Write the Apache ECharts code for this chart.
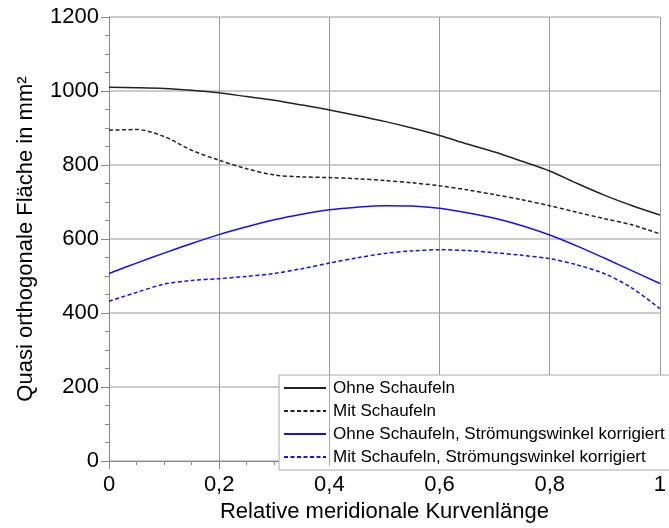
<!DOCTYPE html>
<html>
<head>
<meta charset="utf-8">
<script src="https://cdn.jsdelivr.net/npm/echarts@6/dist/echarts.min.js"></script>
<style>
  html, body { margin: 0; padding: 0; background: #fff; }
  #chart { width: 669px; height: 528px; }
</style>
</head>
<body>
<div id="chart"></div>
<script>
// Relative meridional curve length (sample positions)
const positions = [0, 0.05, 0.1, 0.15, 0.2, 0.25, 0.3, 0.35, 0.4, 0.45, 0.5,
                   0.55, 0.6, 0.65, 0.7, 0.75, 0.8, 0.85, 0.9, 0.95, 1.0];

// Quasi-orthogonal area in mm² for each configuration
const ohneSchaufeln = [1010, 1009, 1007, 1002, 995, 985, 975, 962, 949, 934, 918,
                       900, 880, 857, 835, 810, 784, 750, 718, 690, 665];
const mitSchaufeln = [894, 896, 877, 840, 813, 790, 773, 768, 766, 763, 758,
                      752, 744, 733, 720, 706, 690, 672, 655, 638, 614];
const ohneKorr = [507, 535, 562, 588, 612, 633, 652, 667, 679, 686, 690,
                  689, 683, 671, 656, 636, 611, 581, 548, 514, 480];
const mitKorr = [432, 456, 478, 488, 493, 499, 507, 520, 535, 549, 561,
                 568, 571, 569, 563, 556, 547, 530, 506, 467, 412];

const seriesNames = [
  'Ohne Schaufeln',
  'Mit Schaufeln',
  'Ohne Schaufeln, Strömungswinkel korrigiert',
  'Mit Schaufeln, Strömungswinkel korrigiert'
];

const yTicks = { min: 0, max: 1200, interval: 200 };
const xTicks = { min: 0, max: 1, interval: 0.2 };

const pairs = vals => positions.map((x, i) => [x, vals[i]]);

const FONT = 'Liberation Sans, Arial, sans-serif';

function lineSeries(name, vals, color, dashed) {
  return {
    name: name,
    type: 'line',
    data: pairs(vals),
    smooth: 0.3,
    symbol: 'none',
    lineStyle: { color: color, width: 1.5, type: dashed ? [4, 2.5] : 'solid' },
    itemStyle: { color: color },
    z: 3
  };
}

const chart = echarts.init(document.getElementById('chart'), null, { renderer: 'canvas' });
chart.setOption({
  animation: false,
  backgroundColor: '#fff',
  grid: { left: 109, right: -2, top: 17, bottom: 58, containLabel: false },
  xAxis: {
    type: 'value',
    min: xTicks.min, max: xTicks.max, interval: xTicks.interval,
    name: 'Relative meridionale Kurvenlänge',
    nameLocation: 'middle',
    nameGap: 36,
    nameTextStyle: { fontFamily: FONT, fontSize: 22, color: '#000' },
    axisLine: { lineStyle: { color: '#888', width: 1 } },
    axisTick: { show: true, length: 8, lineStyle: { color: '#888' } },
    minorTick: { show: true, splitNumber: 4, length: 4, lineStyle: { color: '#888' } },
    axisLabel: {
      fontFamily: FONT, fontSize: 22, color: '#000', margin: 13,
      formatter: v => String(Math.round(v * 10) / 10).replace('.', ',')
    },
    splitLine: { show: true, lineStyle: { color: '#999', width: 1 } }
  },
  yAxis: {
    type: 'value',
    min: yTicks.min, max: yTicks.max, interval: yTicks.interval,
    name: 'Quasi orthogonale Fläche in mm²',
    nameLocation: 'middle',
    nameGap: 72,
    nameTextStyle: { fontFamily: FONT, fontSize: 22, color: '#000' },
    axisLine: { show: true, lineStyle: { color: '#888', width: 1 } },
    axisTick: { show: true, length: 8, lineStyle: { color: '#888' } },
    minorTick: { show: true, splitNumber: 4, length: 4, lineStyle: { color: '#888' } },
    axisLabel: { fontFamily: FONT, fontSize: 22, color: '#000', margin: 10, formatter: v => String(v) },
    splitLine: { show: true, lineStyle: { color: '#bbb', width: 1.5 } }
  },
  legend: {
    orient: 'vertical',
    left: 279, top: 375,
    padding: [4, 40, 4, 4],
    itemWidth: 42, itemHeight: 14, itemGap: 5,
    backgroundColor: '#fff',
    borderColor: '#aaa', borderWidth: 1, borderRadius: 0,
    itemStyle: { opacity: 0 },
    textStyle: { fontFamily: FONT, fontSize: 17, lineHeight: 18, color: '#000', padding: [0, 0, 0, 2] },
    data: seriesNames
  },
  graphic: [{
    type: 'line',
    shape: { x1: 329.5, y1: 375, x2: 329.5, y2: 466 },
    style: { stroke: '#aaa', lineWidth: 1 },
    z: 200
  }],
  series: [
    lineSeries(seriesNames[0], ohneSchaufeln, '#222', false),
    lineSeries(seriesNames[1], mitSchaufeln, '#222', true),
    lineSeries(seriesNames[2], ohneKorr, '#1010ff', false),
    lineSeries(seriesNames[3], mitKorr, '#1010ff', true)
  ]
});
</script>
</body>
</html>
